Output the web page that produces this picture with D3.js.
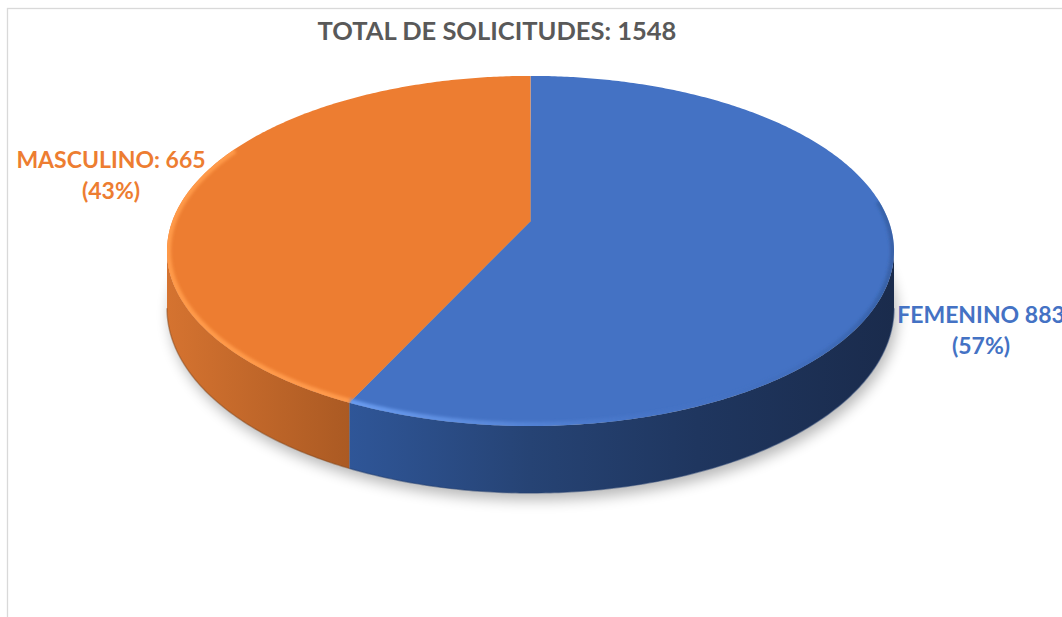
<!DOCTYPE html>
<html>
<head>
<meta charset="utf-8">
<script src="https://cdn.jsdelivr.net/npm/d3@7"></script>
<style>
  html, body { margin: 0; padding: 0; background: #ffffff; }
  svg { display: block; }
  text { font-family: "Lato", "Open Sans", "Liberation Sans", sans-serif; font-weight: 700; }
</style>
</head>
<body>
<svg id="chart" width="1062" height="617"></svg>
<script>
// Requests by sex
const categories = ["FEMENINO", "MASCULINO"];
const values = [883, 665];
const separators = [" ", ": "];
const sliceColors = ["#4472C4", "#ED7D31"];
const titleLabel = "TOTAL DE SOLICITUDES";

const W = 1062, H = 617;
const svg = d3.select("#chart");

// 3-D pie geometry (perspective-projected disc)
const cx = 530.5, cy0 = 221.2;
const alpha = 0.17;                      // perspective strength
const Rx = 363.5 * Math.sqrt(1 - alpha * alpha);
const Ry = 170, depth = 55.6;

function proj(t, h) {
  const s = 1 / (1 + alpha * Math.cos(t));
  return [cx + Rx * Math.sin(t) * s, cy0 - Ry * Math.cos(t) * s + h * depth * s];
}
function arcPts(a0, a1, h, n) {
  n = n || Math.max(8, Math.ceil(Math.abs(a1 - a0) / 0.01));
  return d3.range(n + 1).map(i => proj(a0 + (a1 - a0) * i / n, h));
}
const line = d3.line();

const total = d3.sum(values);
const arcs = d3.pie().sort(null).value(d => d)(values);
const colorScale = d3.scaleOrdinal().domain(categories).range(sliceColors);

const defs = svg.append("defs");

// soft drop shadow under the disc
defs.append("filter").attr("id", "shadowBlur")
  .attr("x", "-20%").attr("y", "-20%").attr("width", "140%").attr("height", "140%")
  .append("feGaussianBlur").attr("stdDeviation", 7);
defs.append("filter").attr("id", "bevelBlur")
  .attr("x", "-10%").attr("y", "-10%").attr("width", "120%").attr("height", "120%")
  .append("feGaussianBlur").attr("stdDeviation", 1.6);

// side-wall shading (light from the left)
const xL = cx - 363.5, xR = cx + 363.5;
function hGrad(id, stops) {
  const g = defs.append("linearGradient").attr("id", id)
    .attr("gradientUnits", "userSpaceOnUse")
    .attr("x1", xL).attr("x2", xR).attr("y1", 0).attr("y2", 0);
  stops.forEach(s => g.append("stop").attr("offset", s[0]).attr("stop-color", s[1])
    .attr("stop-opacity", s[2] == null ? 1 : s[2]));
}
hGrad("side-FEMENINO", [[0, "#3561AA"], [0.25, "#2F5698"], [0.5, "#264374"], [0.73, "#1F365F"], [1, "#1A2B4C"]]);
hGrad("side-MASCULINO", [[0, "#D57330"], [0.25, "#AB5A23"], [0.5, "#8A4A1C"], [1, "#6A3815"]]);
hGrad("bevel-FEMENINO", [[0, "#7AAAF8", 1], [0.25, "#6A9CF0", 1], [0.45, "#5E8EE0", 0.8], [0.7, "#4A7AD0", 0.15], [0.88, "#3560A8", 0.3], [1, "#2C5290", 0.55]]);
hGrad("bevel-MASCULINO", [[0, "#FF9A48", 1], [0.25, "#FF9A4C", 1], [0.5, "#F58A3C", 0.6], [1, "#ED7D31", 0]]);

defs.append("clipPath").attr("id", "topClip")
  .append("path").attr("d", line(arcPts(0, 2 * Math.PI, 0, 400)) + "Z");

// chart area frame
svg.append("rect").attr("x", 7.5).attr("y", 8.5).attr("width", W + 20).attr("height", H + 20)
  .attr("fill", "none").attr("stroke", "#D9D9D9").attr("stroke-width", 1.3);

// shadow
svg.append("path")
  .attr("d", line(arcPts(0, 2 * Math.PI, 1, 400)) + "Z")
  .attr("transform", "translate(3,7)")
  .attr("fill", "#000").attr("opacity", 0.28)
  .attr("filter", "url(#shadowBlur)");

// visible front wall range
const te = Math.acos(-alpha), tf = 2 * Math.PI - te;

const g = svg.append("g");

// side walls
arcs.forEach((a, i) => {
  const a0 = Math.max(a.startAngle, te), a1 = Math.min(a.endAngle, tf);
  if (a1 <= a0) return;
  const top = arcPts(a0, a1, 0), bot = arcPts(a0, a1, 1).reverse();
  g.append("path")
    .attr("d", line(top.concat(bot)) + "Z")
    .attr("fill", `url(#side-${categories[i]})`);
  g.append("path")
    .attr("d", line(arcPts(a0, a1, 1)))
    .attr("fill", "none")
    .attr("stroke", d3.color(colorScale(categories[i])).darker(1.6))
    .attr("stroke-opacity", 0.5).attr("stroke-width", 1.4);
});

// top faces
arcs.forEach((a, i) => {
  const pts = [[cx, cy0]].concat(arcPts(a.startAngle, a.endAngle, 0));
  g.append("path")
    .attr("d", line(pts) + "Z")
    .attr("fill", colorScale(categories[i]));
});

// rounded rim highlight on the top faces
const bevel = g.append("g").attr("clip-path", "url(#topClip)");
arcs.forEach((a, i) => {
  const a0 = Math.max(a.startAngle, 1.45), a1 = Math.min(a.endAngle, 2 * Math.PI - 1.1);
  if (a1 <= a0) return;
  bevel.append("path")
    .attr("d", line(arcPts(a0, a1, 0)))
    .attr("fill", "none")
    .attr("stroke", `url(#bevel-${categories[i]})`)
    .attr("stroke-width", 8)
    .attr("filter", "url(#bevelBlur)");
});

// title
svg.append("text")
  .attr("x", 497).attr("y", 40)
  .attr("text-anchor", "middle")
  .attr("font-size", 25.5)
  .attr("fill", "#595959")
  .text(`${titleLabel}: ${total}`);

// data labels
const labelPos = { FEMENINO: [981, 323], MASCULINO: [111, 168] };
arcs.forEach((a, i) => {
  const cat = categories[i];
  const [lx, ly] = labelPos[cat];
  const t = svg.append("text")
    .attr("x", lx).attr("y", ly)
    .attr("text-anchor", "middle")
    .attr("font-size", 23)
    .attr("fill", colorScale(cat));
  t.append("tspan").attr("x", lx).text(`${cat}${separators[i]}${a.data}`);
  t.append("tspan").attr("x", lx).attr("dy", 30.5).text(`(${Math.round(a.data / total * 100)}%)`);
});
</script>
</body>
</html>
